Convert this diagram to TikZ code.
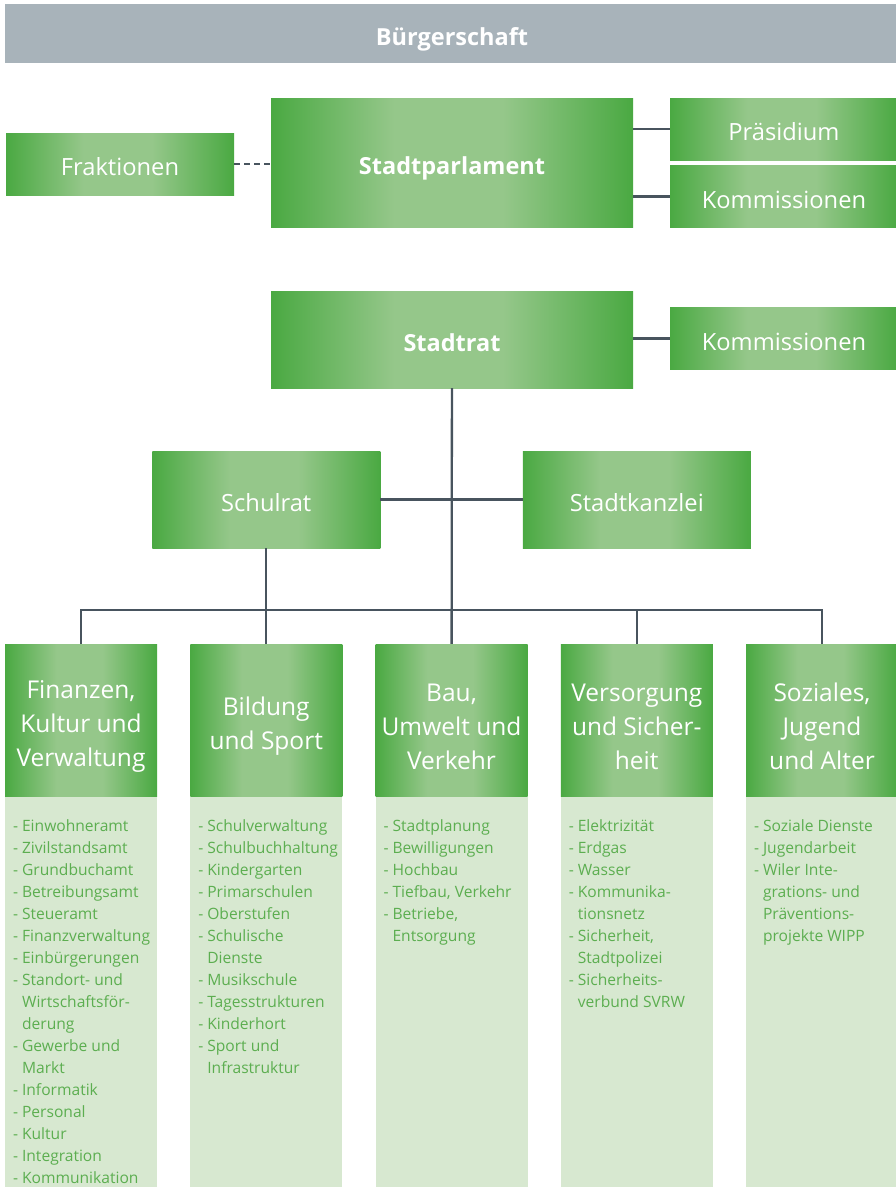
\documentclass[tikz,border=0pt]{standalone}
\usepackage{fontspec}
\setmainfont{Open Sans}
\usepackage{xcolor}
\definecolor{boxgreen}{RGB}{74,169,66}
\definecolor{boxlight}{RGB}{149,199,138}
\definecolor{panelgreen}{RGB}{215,232,208}
\definecolor{listgreen}{RGB}{92,174,80}
\definecolor{bargrey}{RGB}{168,179,186}
\definecolor{linegrey}{RGB}{72,84,94}
\usepackage{tikz}
\pgfdeclarehorizontalshading{greenbar}{100bp}{color(0bp)=(boxgreen); color(25bp)=(boxgreen); color(42bp)=(boxlight); color(57bp)=(boxlight); color(75bp)=(boxgreen); color(100bp)=(boxgreen)}
\newcommand{\widthunit}{228pt}
\newcommand{\widthboard}{362pt}
\newcommand{\widthdept}{152pt}
\newcommand{\contline}[1]{\hphantom{- }#1}
\newcommand{\deptstrut}{\rule{0pt}{31pt}}
\tikzset{
    common/.style={rectangle, inner sep=0pt, shading=greenbar, text=white, align=center},
    oneline/.style={text height=23pt, text depth=0pt},
    unit/.style={common, oneline, minimum width=\widthunit, minimum height=62pt, font=\fontsize{23.7}{28}\selectfont},
    council/.style={unit, minimum height=97pt},
    board/.style={common, oneline, minimum width=\widthboard, font=\fontsize{23.5}{28}\selectfont\bfseries},
    dept/.style={common, minimum width=\widthdept, minimum height=152pt, font=\fontsize{24.5}{34}\selectfont},
    panel/.style={rectangle, fill=panelgreen, anchor=north, minimum width=\widthdept, minimum height=400pt},
    tasks/.style={anchor=north west, inner sep=0pt, align=left, text=listgreen, font=\fontsize{15.6}{22}\selectfont},
    citizens/.style={rectangle, inner sep=0pt, oneline, fill=bargrey, text=white, minimum width=894pt, minimum height=59pt, font=\fontsize{23.5}{28}\selectfont\bfseries},
    conn/.style={draw=linegrey, line width=2.3pt},
    loose/.style={conn, dash pattern=on 6pt off 4pt}
}
\begin{document}
\begin{tikzpicture}[x=1pt, y=-1pt]
      \useasboundingbox (0,0) rectangle (895,1187);
      \path
          (452,33.5) node[citizens] (buergerschaft) {Bürgerschaft}
          (120,164) node[unit] (fraktionen) {Fraktionen}
          (452,162.5) node[board, minimum height=129pt] (parlament) {Stadtparlament}
          (784,129) node[unit] (praesidium) {Präsidium}
          (784,196.5) node[unit] (kommissionen-p) {Kommissionen}
          (452,339.5) node[board, minimum height=97pt] (stadtrat) {Stadtrat}
          (784,338.5) node[unit] (kommissionen-r) {Kommissionen}
          (0,610) coordinate (bus);

      \path
          (81,720) node[dept] (finanzen) {\deptstrut Finanzen,\\Kultur und\\Verwaltung}
          +(185.25,0) node[dept] (bildung) {\deptstrut Bildung\\und Sport}
          +(370.5,0) node[dept] (bau) {\deptstrut Bau,\\Umwelt und\\Verkehr}
          +(555.75,0) node[dept] (versorgung) {\deptstrut Versorgung\\und Sicher-\\heit}
          +(741,0) node[dept] (soziales) {\deptstrut Soziales,\\Jugend\\und Alter};

      \path
          (bildung |- 0,499.5) node[council] (schulrat) {Schulrat}
          (versorgung |- 0,499.5) node[council] (stadtkanzlei) {Stadtkanzlei};

      \path
          ([yshift=-1pt]finanzen.south) node[panel] (finanzen-panel) {}
          ([yshift=-1pt]bildung.south) node[panel] (bildung-panel) {}
          ([yshift=-1pt]bau.south) node[panel] (bau-panel) {}
          ([yshift=-1pt]versorgung.south) node[panel] (versorgung-panel) {}
          ([yshift=-1pt]soziales.south) node[panel] (soziales-panel) {};

      \path
          (finanzen-panel.north west) +(8,22) node[tasks] (finanzen-tasks) {- Einwohneramt\\- Zivilstandsamt\\- Grundbuchamt\\- Betreibungsamt\\- Steueramt\\- Finanzverwaltung\\- Einbürgerungen\\- Standort- und\\\contline{Wirtschaftsför-}\\\contline{derung}\\- Gewerbe und\\\contline{Markt}\\- Informatik\\- Personal\\- Kultur\\- Integration\\- Kommunikation}
          (bildung-panel.north west) +(8,22) node[tasks] (bildung-tasks) {- Schulverwaltung\\- Schulbuchhaltung\\- Kindergarten\\- Primarschulen\\- Oberstufen\\- Schulische\\\contline{Dienste}\\- Musikschule\\- Tagesstrukturen\\- Kinderhort\\- Sport und\\\contline{Infrastruktur}}
          (bau-panel.north west) +(8,22) node[tasks] (bau-tasks) {- Stadtplanung\\- Bewilligungen\\- Hochbau\\- Tiefbau, Verkehr\\- Betriebe,\\\contline{Entsorgung}}
          (versorgung-panel.north west) +(8,22) node[tasks] (versorgung-tasks) {- Elektrizität\\- Erdgas\\- Wasser\\- Kommunika-\\\contline{tionsnetz}\\- Sicherheit,\\\contline{Stadtpolizei}\\- Sicherheits-\\\contline{verbund SVRW}}
          (soziales-panel.north west) +(8,22) node[tasks] (soziales-tasks) {- Soziale Dienste\\- Jugendarbeit\\- Wiler Inte-\\\contline{grations- und}\\\contline{Präventions-}\\\contline{projekte WIPP}};

      \draw[loose] (fraktionen) -- (fraktionen -| parlament.west);
      \draw[conn] (parlament.east |- praesidium.west) -- (praesidium.west);
      \draw[conn] (parlament.east |- kommissionen-p.west) -- (kommissionen-p.west);
      \draw[conn] (stadtrat.east |- kommissionen-r.west) -- (kommissionen-r.west);
      \draw[conn] (schulrat) -- (stadtkanzlei);
      \draw[conn] (stadtrat) -- (bau);
      \draw[conn] (schulrat) -- (bildung);
      \draw[conn] (finanzen.north) -- (finanzen.north |- bus) -- (soziales.north |- bus) -- (soziales.north);
      \draw[conn] (versorgung.north) -- (versorgung.north |- bus);
    \end{tikzpicture}
\end{document}
